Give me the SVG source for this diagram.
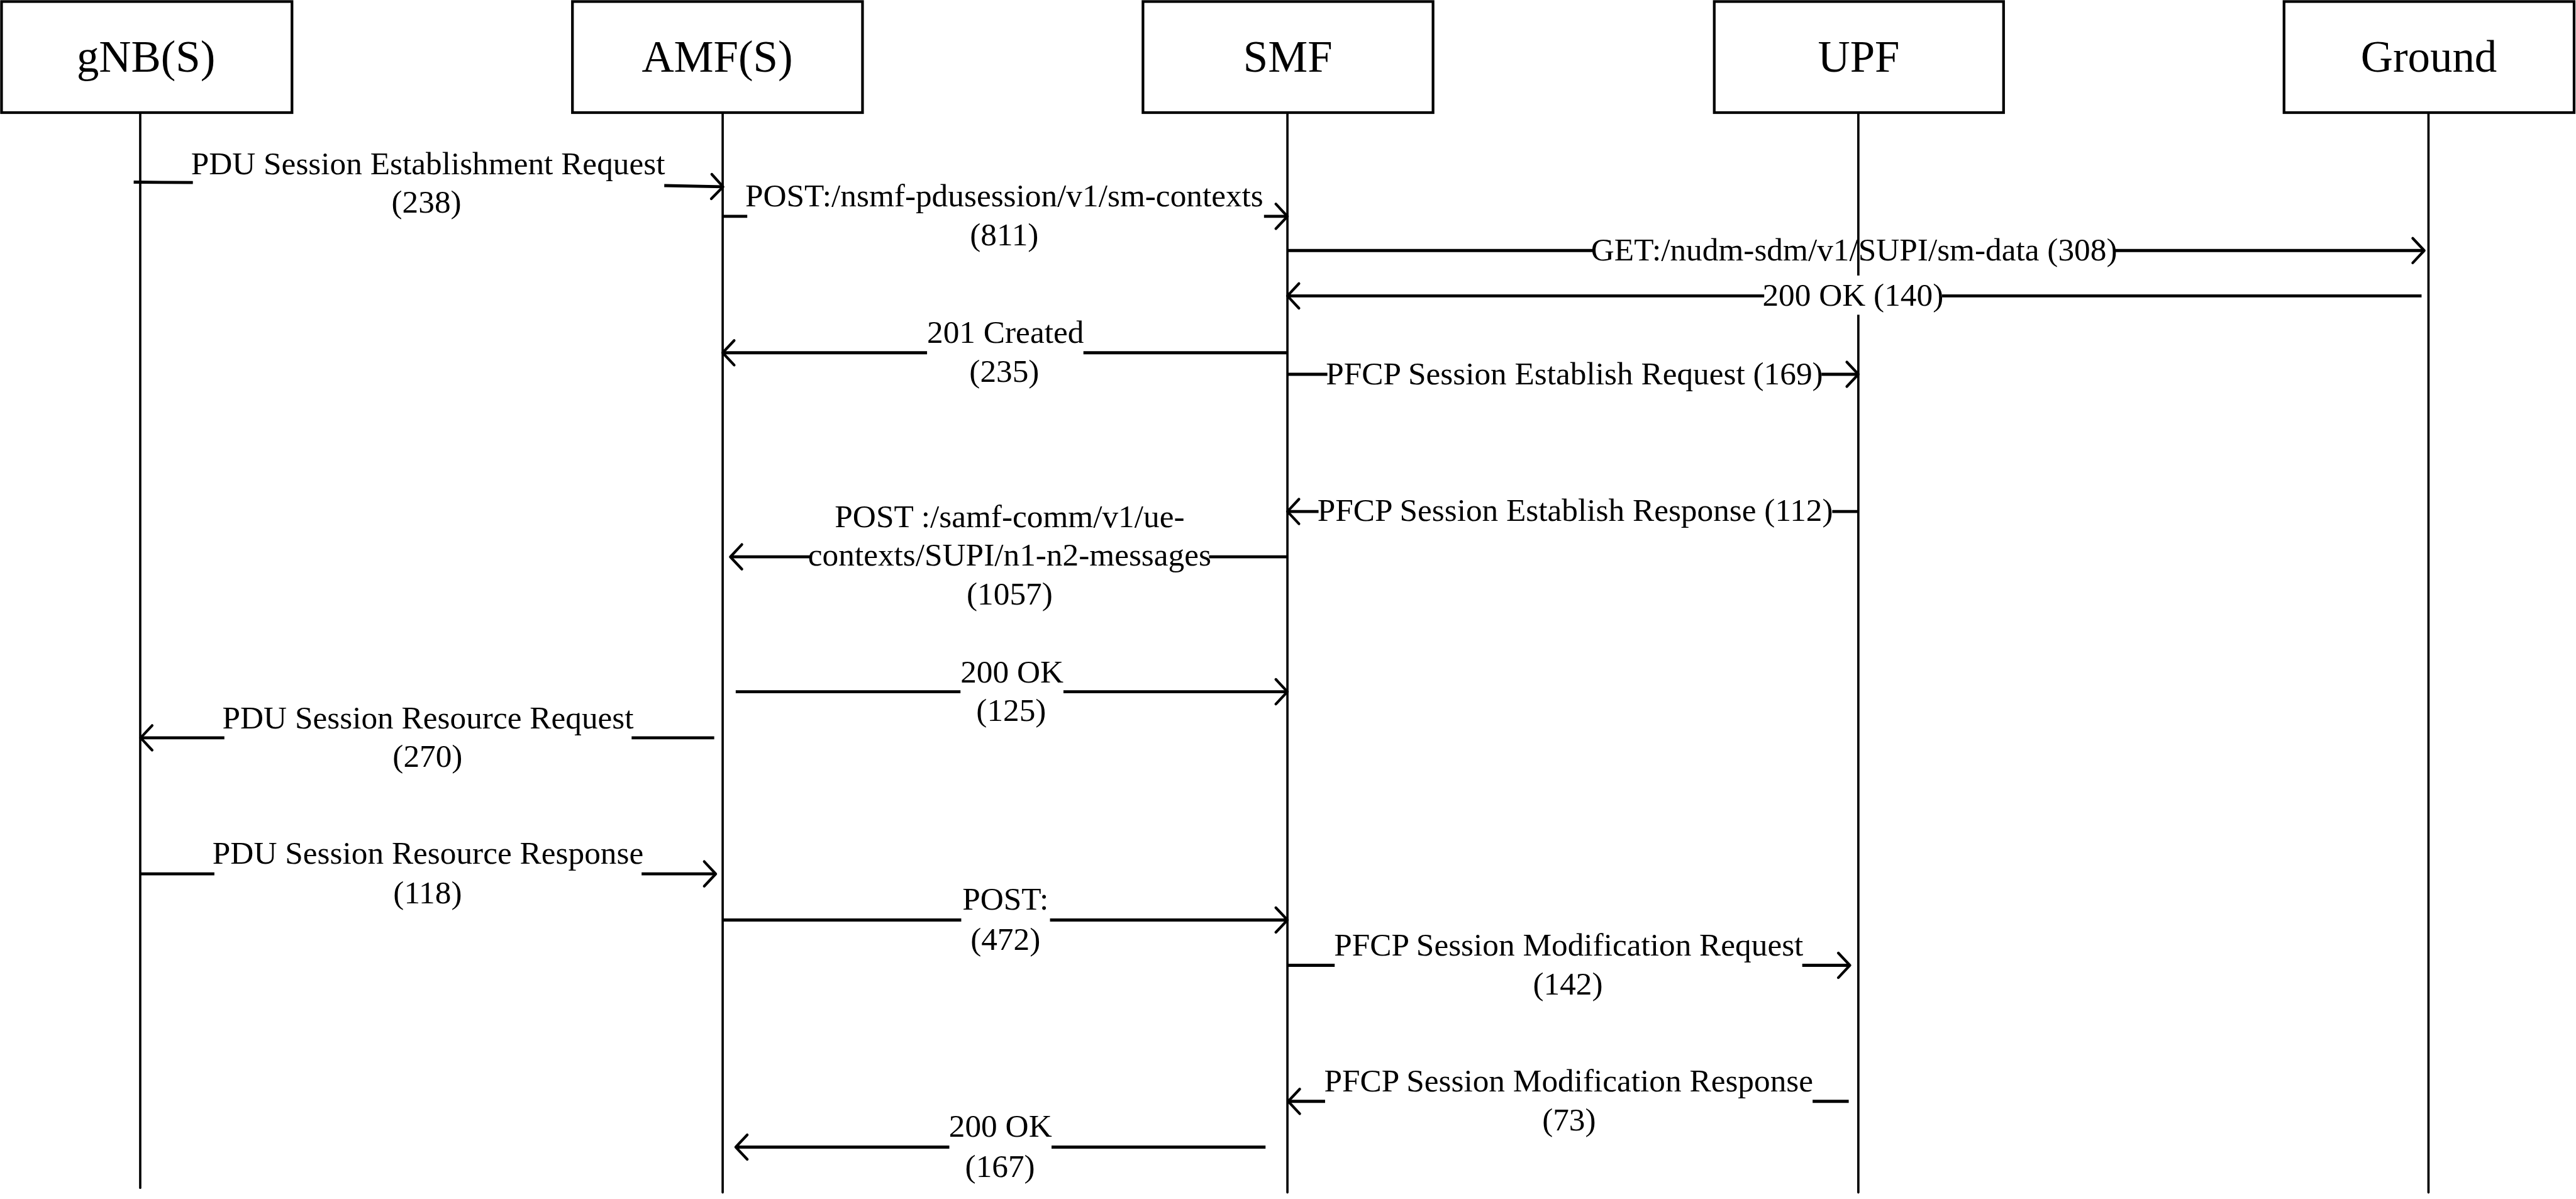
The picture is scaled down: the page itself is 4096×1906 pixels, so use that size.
<svg xmlns="http://www.w3.org/2000/svg" width="4096" height="1906" viewBox="0 0 4096 1906">
<style>
.box{fill:#fff;stroke:#000;stroke-width:7}
.life{stroke:#000;stroke-width:6;stroke-linecap:round;fill:none}
.hd{font-family:"Liberation Serif","Times New Roman",serif;font-size:116px;text-anchor:middle;fill:#000}
.lb{font-family:"Liberation Serif","Times New Roman",serif;font-size:84px;text-anchor:middle;fill:#000}
.ln{stroke:#000;stroke-width:8;fill:none}
.ar{stroke:#000;stroke-width:8;fill:none;marker-end:url(#ah)}
</style>
<defs>
<marker id="ah" markerUnits="userSpaceOnUse" markerWidth="40" markerHeight="80" viewBox="-35 -40 40 80" refX="0" refY="0" orient="auto" overflow="visible">
<path d="M-30,-32 L0,0 L-30,32" fill="none" stroke="#000" stroke-width="7" stroke-linecap="round" stroke-linejoin="round"/>
</marker>
</defs>
<rect width="4096" height="1906" fill="#fff"/>
<g transform="scale(0.61089)">
<g id="nodes">
<g id="gNB">
<rect class="box" x="4" y="4" width="756" height="289"/>
<line class="life" x1="365" y1="293" x2="365" y2="3091"/>
<text class="hd" x="380" y="186">gNB(S)</text>
</g>
<g id="AMF">
<rect class="box" x="1490" y="4" width="755" height="289"/>
<line class="life" x1="1881" y1="293" x2="1881" y2="3103"/>
<text class="hd" x="1867" y="186">AMF(S)</text>
</g>
<g id="SMF">
<rect class="box" x="2975" y="4" width="755" height="289"/>
<line class="life" x1="3351" y1="293" x2="3351" y2="3103"/>
<text class="hd" x="3352" y="186">SMF</text>
</g>
<g id="UPF">
<rect class="box" x="4462" y="4" width="753" height="289"/>
<line class="life" x1="4837" y1="293" x2="4837" y2="3103"/>
<text class="hd" x="4838" y="186">UPF</text>
</g>
<g id="Ground">
<rect class="box" x="5945" y="4" width="755" height="289"/>
<line class="life" x1="6321" y1="293" x2="6321" y2="3103"/>
<text class="hd" x="6322" y="186">Ground</text>
</g>
</g>
<g id="connectors">
<g id="m1">
<line class="ln" x1="348" y1="474" x2="502" y2="475"/>
<line class="ar" x1="1729" y1="483" x2="1882" y2="486"/>
<text class="lb" x="1114" y="453">PDU Session Establishment Request</text>
<text class="lb" x="1110" y="553">(238)</text>
</g>
<g id="m2">
<line class="ln" x1="1881" y1="563" x2="1945" y2="563"/>
<line class="ar" x1="3290" y1="563" x2="3351" y2="563"/>
<text class="lb" x="2614" y="537">POST:/nsmf-pdusession/v1/sm-contexts</text>
<text class="lb" x="2614" y="638">(811)</text>
</g>
<g id="m3">
<line class="ln" x1="3351" y1="652" x2="4147" y2="652"/>
<line class="ar" x1="5504" y1="652" x2="6310" y2="652"/>
<text class="lb" x="4826" y="678">GET:/nudm-sdm/v1/SUPI/sm-data (308)</text>
</g>
<g id="m4">
<rect x="4592" y="717" width="463" height="102" fill="#fff"/>
<line class="ln" x1="6303" y1="770" x2="5055" y2="770"/>
<line class="ar" x1="4592" y1="770" x2="3351" y2="770"/>
<text class="lb" x="4823" y="795">200 OK (140)</text>
</g>
<g id="m5">
<line class="ln" x1="3351" y1="918" x2="2820" y2="918"/>
<line class="ar" x1="2413" y1="918" x2="1881" y2="918"/>
<text class="lb" x="2617" y="892">201 Created</text>
<text class="lb" x="2614" y="993">(235)</text>
</g>
<g id="m6">
<line class="ln" x1="3351" y1="974" x2="3455" y2="974"/>
<line class="ar" x1="4741" y1="974" x2="4837" y2="974"/>
<text class="lb" x="4098" y="1000">PFCP Session Establish Request (169)</text>
</g>
<g id="m7">
<line class="ln" x1="4837" y1="1331" x2="4769" y2="1331"/>
<line class="ar" x1="3432" y1="1331" x2="3351" y2="1331"/>
<text class="lb" x="4100" y="1356">PFCP Session Establish Response (112)</text>
</g>
<g id="m8">
<line class="ln" x1="3351" y1="1449" x2="3147" y2="1449"/>
<line class="ar" x1="2109" y1="1449" x2="1901" y2="1449"/>
<text class="lb" x="2628" y="1372">POST :/samf-comm/v1/ue-</text>
<text class="lb" x="2628" y="1472">contexts/SUPI/n1-n2-messages</text>
<text class="lb" x="2628" y="1573">(1057)</text>
</g>
<g id="m9">
<line class="ln" x1="1915" y1="1800" x2="2500" y2="1800"/>
<line class="ar" x1="2768" y1="1800" x2="3351" y2="1800"/>
<text class="lb" x="2634" y="1776">200 OK</text>
<text class="lb" x="2632" y="1876">(125)</text>
</g>
<g id="m10">
<line class="ln" x1="1859" y1="1920" x2="1644" y2="1920"/>
<line class="ar" x1="584" y1="1920" x2="366" y2="1920"/>
<text class="lb" x="1114" y="1895">PDU Session Resource Request</text>
<text class="lb" x="1113" y="1995">(270)</text>
</g>
<g id="m11">
<line class="ln" x1="366" y1="2274" x2="558" y2="2274"/>
<line class="ar" x1="1670" y1="2274" x2="1863" y2="2274"/>
<text class="lb" x="1114" y="2247">PDU Session Resource Response</text>
<text class="lb" x="1113" y="2350">(118)</text>
</g>
<g id="m12">
<line class="ln" x1="1881" y1="2394" x2="2502" y2="2394"/>
<line class="ar" x1="2733" y1="2394" x2="3351" y2="2394"/>
<text class="lb" x="2617" y="2367">POST:</text>
<text class="lb" x="2617" y="2472">(472)</text>
</g>
<g id="m13">
<line class="ln" x1="3351" y1="2512" x2="3474" y2="2512"/>
<line class="ar" x1="4691" y1="2512" x2="4815" y2="2512"/>
<text class="lb" x="4083" y="2487">PFCP Session Modification Request</text>
<text class="lb" x="4081" y="2588">(142)</text>
</g>
<g id="m14">
<line class="ln" x1="4812" y1="2866" x2="4718" y2="2866"/>
<line class="ar" x1="3449" y1="2866" x2="3353" y2="2866"/>
<text class="lb" x="4083" y="2840">PFCP Session Modification Response</text>
<text class="lb" x="4084" y="2942">(73)</text>
</g>
<g id="m15">
<line class="ln" x1="3294" y1="2985" x2="2737" y2="2985"/>
<line class="ar" x1="2471" y1="2985" x2="1915" y2="2985"/>
<text class="lb" x="2604" y="2958">200 OK</text>
<text class="lb" x="2603" y="3062">(167)</text>
</g>
</g>
</g>
</svg>
